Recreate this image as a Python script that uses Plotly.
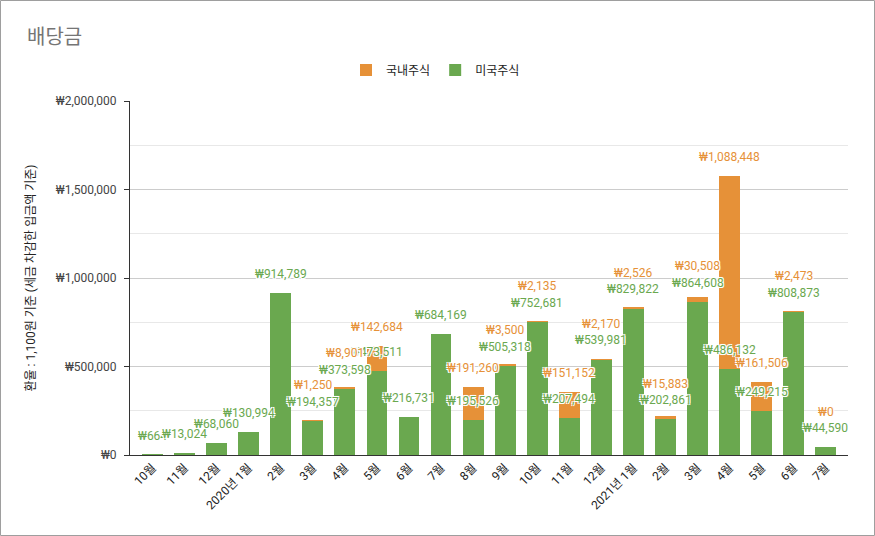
import plotly.graph_objects as go

MONTH_LABELS = ["10월", "11월", "12월", "2020년 1월", "2월", "3월", "4월", "5월", "6월", "7월", "8월",
                "9월", "10월", "11월", "12월", "2021년 1월", "2월", "3월", "4월", "5월", "6월", "7월"]
US_DIVIDENDS = [664, 13024, 68060, 130994, 914789, 194357, 373598, 473511, 216731, 684169, 195526,
                505318, 752681, 207494, 539981, 829822, 202861, 864608, 486132, 249215, 808873, 44590]
KR_DIVIDENDS = [None, None, None, None, None, 1250, 8901, 142684, None, None, 191260,
                3500, 2135, 151152, 2170, 2526, 15883, 30508, 1088448, 161506, 2473, 0]

ORANGE = "#E69138"
GREEN  = "#6AA84F"
FONT   = "Roboto, 'Noto Sans CJK KR', sans-serif"
HALO   = "-1px -1px 0 #fff, 1px -1px 0 #fff, -1px 1px 0 #fff, 1px 1px 0 #fff, 0 0 2px #fff"

W, H = 875, 536
M_L, M_R, M_T, M_B = 130, 27, 101, 81
PLOT_W = W - M_L - M_R
PLOT_H = H - M_T - M_B
Y_MAX = 2000000

x = list(range(len(MONTH_LABELS)))

fig = go.Figure()
fig.add_trace(go.Bar(x=x, y=US_DIVIDENDS, name="미국주식", marker=dict(color=GREEN, line_width=0),
                     legendrank=2))
fig.add_trace(go.Bar(x=x, y=KR_DIVIDENDS, name="국내주식", marker=dict(color=ORANGE, line_width=0),
                     legendrank=1))

# data labels, white halo like google sheets
annotations = []
for i, g in enumerate(US_DIVIDENDS):
    annotations.append(dict(x=i, y=g, text=f"₩{g:,}", showarrow=False, yshift=19, yanchor="middle",
                            font=dict(family=FONT, size=12, color=GREEN, shadow=HALO)))
px_per_unit = PLOT_H / Y_MAX
for i, (g, k) in enumerate(zip(US_DIVIDENDS, KR_DIVIDENDS)):
    if k is None:
        continue
    # keep orange label clear of the green one when the orange slice is thin
    extra = max(0, 16.5 - k * px_per_unit)
    annotations.append(dict(x=i, y=g + k, text=f"₩{k:,}", showarrow=False, yshift=19 + extra,
                            yanchor="middle",
                            font=dict(family=FONT, size=12, color=ORANGE, shadow=HALO)))

fig.update_layout(
    width=W, height=H,
    margin=dict(l=M_L, r=M_R, t=M_T, b=M_B, autoexpand=False),
    paper_bgcolor="white", plot_bgcolor="white",
    font=dict(family=FONT, size=12, color="#222222"),
    barmode="stack", bargap=0.35,
    title=dict(text="배당금", x=27 / W, xanchor="left", y=1 - 37 / H, yanchor="middle",
               xref="container", yref="container",
               font=dict(family=FONT, size=20, color="#757575")),
    legend=dict(orientation="h", x=0.5 - 2 / W, xref="container", xanchor="center",
                y=1 - 70 / H, yref="container", yanchor="middle",
                font=dict(size=12, color="#222222"), traceorder="normal"),
    showlegend=True,
    annotations=annotations,
    shapes=[dict(type="rect", xref="paper", yref="paper",
                 x0=(0.5 - M_L) / PLOT_W, x1=(W - 0.5 - M_L) / PLOT_W,
                 y0=-(H - 0.5 - (M_T + PLOT_H)) / PLOT_H, y1=1 + (M_T - 0.5) / PLOT_H,
                 line=dict(color="#9e9e9e", width=1), layer="below")],
)

fig.update_xaxes(
    tickvals=x, ticktext=MONTH_LABELS, tickangle=-45, range=[-0.7, 21.69],
    showline=True, linecolor="#333333", linewidth=1, ticks="", showgrid=False,
    tickfont=dict(size=12, color="#222222"), zeroline=False, automargin=False,
)
fig.update_yaxes(
    range=[0, Y_MAX], dtick=500000, tickprefix="₩", tickformat=",d",
    showline=True, linecolor="#333333", linewidth=1,
    ticks="outside", ticklen=5, tickcolor="#333333", ticklabelstandoff=5,
    gridcolor="#cccccc", zeroline=False, automargin=False,
    minor=dict(dtick=250000, showgrid=True, gridcolor="#e8e8e8", ticks=""),
    tickfont=dict(size=12, color="#444444"),
    title=dict(text="환율 : 1,100원 기준 (세금 차감한 입금액 기준)", standoff=17,
               font=dict(size=12, color="#222222")),
)

# page body has a default 8px margin; drop it so the chart fills the window
fig.write_html("out.html", config={"displayModeBar": False},
               post_script="document.body.style.margin = '0';")
